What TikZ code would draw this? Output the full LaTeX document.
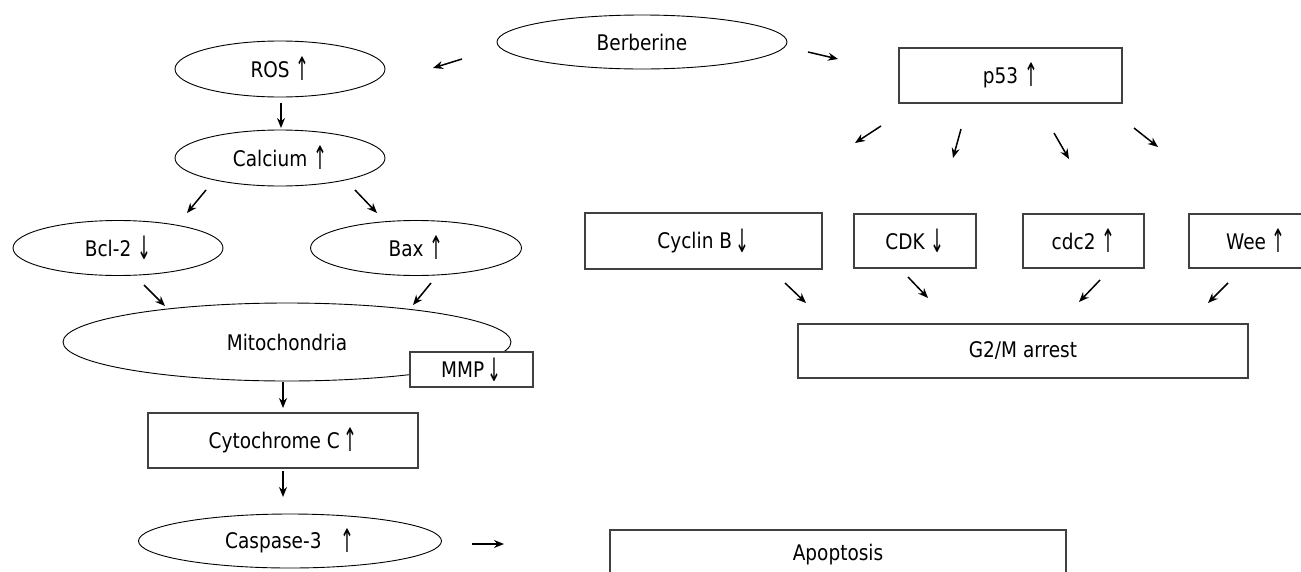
\documentclass[tikz,border=0pt]{standalone}
\usepackage{fontspec}
\usepackage{graphicx}
\setmainfont{DejaVu Sans}[FakeStretch=0.86]
\usetikzlibrary{shapes.geometric,arrows.meta}

\newcommand{\upar}{\raisebox{-0.16em}{\scalebox{0.9}[1.5]{↑}}}
\newcommand{\dnar}{\raisebox{-0.16em}{\scalebox{0.9}[1.5]{↓}}}

\tikzset{
  oval/.style={draw, ellipse, inner sep=0pt, line width=0.9pt, fill=white},
  box/.style={draw=black!75, rectangle, inner sep=0pt, line width=1.3pt, fill=white},
  flow/.style={-{Stealth[length=10pt,width=8pt]}, line width=1.5pt},
}

\begin{document}
\begin{tikzpicture}[x=1pt, y=-1pt, font=\fontsize{21.5pt}{25pt}\selectfont]
  \useasboundingbox (0,0) rectangle (1301,571);
  \clip (0,0) rectangle (1301,571);

  % left branch: mitochondrial pathway
  \node[oval, minimum width=290pt, minimum height=54pt] (berberine) at (642,42) {Berberine};
  \node[oval, minimum width=210pt, minimum height=56pt] (ros) at (280,69) {ROS \upar};
  \node[oval, minimum width=210pt, minimum height=56pt] (calcium) at (280,158) {Calcium \upar};
  \node[oval, minimum width=210pt, minimum height=55pt] (bcl2) at (118,248) {Bcl-2 \dnar};
  \node[oval, minimum width=211pt, minimum height=55pt] (bax) at (416,248) {Bax \upar};
  \node[oval, minimum width=448pt, minimum height=78pt] (mito) at (287,342) {Mitochondria};
  \node[box, minimum width=123pt, minimum height=35pt] (mmp) at (471.5,369.5) {MMP\,\dnar};
  \node[box, minimum width=270pt, minimum height=55pt] (cytc) at (283,440.5) {Cytochrome C\,\upar};
  \node[oval, minimum width=303pt, minimum height=54pt] (casp) at (290,541) {Caspase-3\hspace{0.9em}\upar};
  \node[box, minimum width=456pt, minimum height=50pt] (apop) at (838,555) {Apoptosis\hspace{28pt}};

  % right branch: cell cycle
  \node[box, minimum width=223pt, minimum height=55pt] (p53) at (1010.5,75.5) {p53 \upar};
  \node[box, minimum width=237pt, minimum height=56pt] (cyclinb) at (703.5,241) {Cyclin B\,\dnar};
  \node[box, minimum width=122pt, minimum height=54pt] (cdk) at (915,241) {CDK \dnar};
  \node[box, minimum width=121pt, minimum height=54pt] (cdc2) at (1083.5,241) {cdc2 \upar};
  \node[box, minimum width=134pt, minimum height=54pt] (wee) at (1256,241) {Wee \upar};
  \node[box, minimum width=450pt, minimum height=54pt] (g2m) at (1023,351) {G2/M arrest};

  % arrow ends (the arrows float between the nodes)
  \coordinate (b-ros-s) at (462,59);    \coordinate (b-ros-e) at (433,68);
  \coordinate (b-p53-s) at (808,52);    \coordinate (b-p53-e) at (838,59);
  \coordinate (ros-ca-s) at (281,103);  \coordinate (ros-ca-e) at (281,128);
  \coordinate (ca-bcl-s) at (206,190);  \coordinate (ca-bcl-e) at (187,213);
  \coordinate (ca-bax-s) at (355,190);  \coordinate (ca-bax-e) at (377,213);
  \coordinate (bcl-mi-s) at (144,285);  \coordinate (bcl-mi-e) at (165,306);
  \coordinate (bax-mi-s) at (431,283);  \coordinate (bax-mi-e) at (413,305);
  \coordinate (mi-cy-s) at (283,382);   \coordinate (mi-cy-e) at (283,408);
  \coordinate (cy-cas-s) at (283,471);  \coordinate (cy-cas-e) at (283,497);
  \coordinate (cas-ap-s) at (472,544);  \coordinate (cas-ap-e) at (504,544);
  \coordinate (p-cyc-s) at (881,126);   \coordinate (p-cyc-e) at (855,143);
  \coordinate (p-cdk-s) at (961,129);   \coordinate (p-cdk-e) at (953,158);
  \coordinate (p-cdc-s) at (1054,133);  \coordinate (p-cdc-e) at (1069,159);
  \coordinate (p-wee-s) at (1134,128);  \coordinate (p-wee-e) at (1158,147);
  \coordinate (cyc-g-s) at (785,283);   \coordinate (cyc-g-e) at (806,303);
  \coordinate (cdk-g-s) at (908,277);   \coordinate (cdk-g-e) at (928,298);
  \coordinate (cdc-g-s) at (1100,280);  \coordinate (cdc-g-e) at (1079,302);
  \coordinate (wee-g-s) at (1228,283);  \coordinate (wee-g-e) at (1208,303);

  \draw[flow] (b-ros-s) -- (b-ros-e);
  \draw[flow] (b-p53-s) -- (b-p53-e);
  \draw[flow] (ros-ca-s) -- (ros-ca-e);
  \draw[flow] (ca-bcl-s) -- (ca-bcl-e);
  \draw[flow] (ca-bax-s) -- (ca-bax-e);
  \draw[flow] (bcl-mi-s) -- (bcl-mi-e);
  \draw[flow] (bax-mi-s) -- (bax-mi-e);
  \draw[flow] (mi-cy-s) -- (mi-cy-e);
  \draw[flow] (cy-cas-s) -- (cy-cas-e);
  \draw[flow] (cas-ap-s) -- (cas-ap-e);
  \draw[flow] (p-cyc-s) -- (p-cyc-e);
  \draw[flow] (p-cdk-s) -- (p-cdk-e);
  \draw[flow] (p-cdc-s) -- (p-cdc-e);
  \draw[flow] (p-wee-s) -- (p-wee-e);
  \draw[flow] (cyc-g-s) -- (cyc-g-e);
  \draw[flow] (cdk-g-s) -- (cdk-g-e);
  \draw[flow] (cdc-g-s) -- (cdc-g-e);
  \draw[flow] (wee-g-s) -- (wee-g-e);
\end{tikzpicture}
\end{document}
